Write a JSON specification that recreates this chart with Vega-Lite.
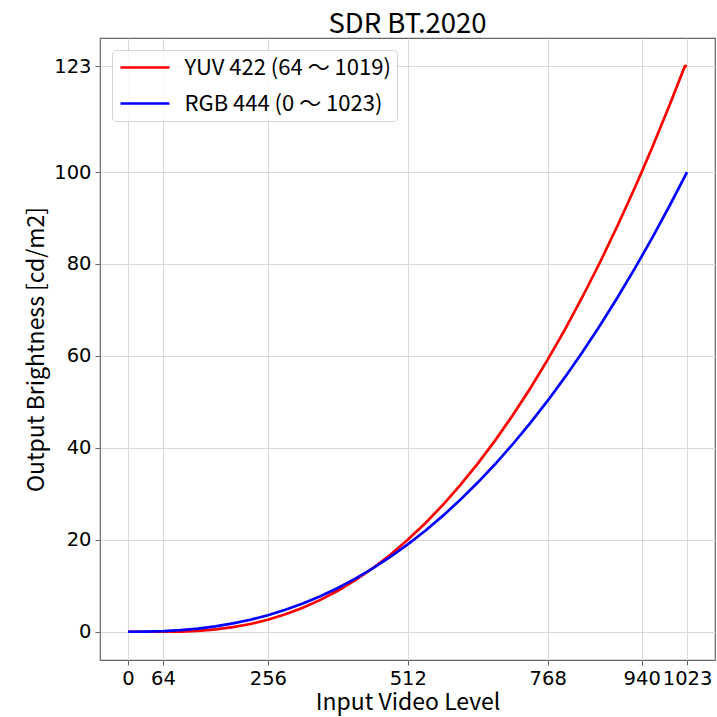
{
  "$schema": "https://vega.github.io/schema/vega-lite/v6.json",
  "autosize": {"type": "none"},
  "width": 615,
  "height": 622,
  "padding": {"left": 100, "top": 38, "right": 2, "bottom": 57},
  "background": "white",
  "title": {
    "text": "SDR BT.2020",
    "font": "Noto Sans CJK JP",
    "fontSize": 27.5,
    "fontWeight": "normal",
    "color": "#000000",
    "anchor": "middle",
    "offset": 0
  },
  "config": {
    "view": {"stroke": "#666666", "strokeWidth": 1.2},
    "axis": {
      "gridColor": "#d9d9d9",
      "gridWidth": 1,
      "domain": false,
      "tickColor": "#666666",
      "tickSize": 5,
      "labelColor": "#000000",
      "titleColor": "#000000",
      "titleFont": "Noto Sans CJK JP",
      "titleFontSize": 23,
      "titleFontWeight": "normal"
    }
  },
  "data": {
    "values": [
      {"level": 0, "nits": 0, "series": "YUV 422 (64 〜 1019)"},
      {"level": 32, "nits": 0, "series": "YUV 422 (64 〜 1019)"},
      {"level": 64, "nits": 0, "series": "YUV 422 (64 〜 1019)"},
      {"level": 96, "nits": 0.036, "series": "YUV 422 (64 〜 1019)"},
      {"level": 128, "nits": 0.187, "series": "YUV 422 (64 〜 1019)"},
      {"level": 160, "nits": 0.496, "series": "YUV 422 (64 〜 1019)"},
      {"level": 192, "nits": 0.989, "series": "YUV 422 (64 〜 1019)"},
      {"level": 224, "nits": 1.69, "series": "YUV 422 (64 〜 1019)"},
      {"level": 256, "nits": 2.618, "series": "YUV 422 (64 〜 1019)"},
      {"level": 288, "nits": 3.789, "series": "YUV 422 (64 〜 1019)"},
      {"level": 320, "nits": 5.222, "series": "YUV 422 (64 〜 1019)"},
      {"level": 352, "nits": 6.927, "series": "YUV 422 (64 〜 1019)"},
      {"level": 384, "nits": 8.92, "series": "YUV 422 (64 〜 1019)"},
      {"level": 416, "nits": 11.211, "series": "YUV 422 (64 〜 1019)"},
      {"level": 448, "nits": 13.815, "series": "YUV 422 (64 〜 1019)"},
      {"level": 480, "nits": 16.74, "series": "YUV 422 (64 〜 1019)"},
      {"level": 512, "nits": 20.0, "series": "YUV 422 (64 〜 1019)"},
      {"level": 544, "nits": 23.603, "series": "YUV 422 (64 〜 1019)"},
      {"level": 576, "nits": 27.557, "series": "YUV 422 (64 〜 1019)"},
      {"level": 608, "nits": 31.873, "series": "YUV 422 (64 〜 1019)"},
      {"level": 640, "nits": 36.559, "series": "YUV 422 (64 〜 1019)"},
      {"level": 672, "nits": 41.627, "series": "YUV 422 (64 〜 1019)"},
      {"level": 704, "nits": 47.08, "series": "YUV 422 (64 〜 1019)"},
      {"level": 736, "nits": 52.928, "series": "YUV 422 (64 〜 1019)"},
      {"level": 768, "nits": 59.18, "series": "YUV 422 (64 〜 1019)"},
      {"level": 800, "nits": 65.84, "series": "YUV 422 (64 〜 1019)"},
      {"level": 832, "nits": 72.923, "series": "YUV 422 (64 〜 1019)"},
      {"level": 864, "nits": 80.427, "series": "YUV 422 (64 〜 1019)"},
      {"level": 896, "nits": 88.366, "series": "YUV 422 (64 〜 1019)"},
      {"level": 928, "nits": 96.744, "series": "YUV 422 (64 〜 1019)"},
      {"level": 940, "nits": 100.0, "series": "YUV 422 (64 〜 1019)"},
      {"level": 960, "nits": 105.567, "series": "YUV 422 (64 〜 1019)"},
      {"level": 992, "nits": 114.844, "series": "YUV 422 (64 〜 1019)"},
      {"level": 1019, "nits": 123.03, "series": "YUV 422 (64 〜 1019)"},
      {"level": 1023, "nits": 123.03, "series": "YUV 422 (64 〜 1019)"},
      {"level": 0, "nits": 0, "series": "RGB 444 (0 〜 1023)"},
      {"level": 32, "nits": 0.025, "series": "RGB 444 (0 〜 1023)"},
      {"level": 64, "nits": 0.129, "series": "RGB 444 (0 〜 1023)"},
      {"level": 96, "nits": 0.342, "series": "RGB 444 (0 〜 1023)"},
      {"level": 128, "nits": 0.682, "series": "RGB 444 (0 〜 1023)"},
      {"level": 160, "nits": 1.164, "series": "RGB 444 (0 〜 1023)"},
      {"level": 192, "nits": 1.804, "series": "RGB 444 (0 〜 1023)"},
      {"level": 224, "nits": 2.612, "series": "RGB 444 (0 〜 1023)"},
      {"level": 256, "nits": 3.598, "series": "RGB 444 (0 〜 1023)"},
      {"level": 288, "nits": 4.774, "series": "RGB 444 (0 〜 1023)"},
      {"level": 320, "nits": 6.146, "series": "RGB 444 (0 〜 1023)"},
      {"level": 352, "nits": 7.728, "series": "RGB 444 (0 〜 1023)"},
      {"level": 384, "nits": 9.522, "series": "RGB 444 (0 〜 1023)"},
      {"level": 416, "nits": 11.537, "series": "RGB 444 (0 〜 1023)"},
      {"level": 448, "nits": 13.783, "series": "RGB 444 (0 〜 1023)"},
      {"level": 480, "nits": 16.264, "series": "RGB 444 (0 〜 1023)"},
      {"level": 512, "nits": 18.991, "series": "RGB 444 (0 〜 1023)"},
      {"level": 544, "nits": 21.964, "series": "RGB 444 (0 〜 1023)"},
      {"level": 576, "nits": 25.196, "series": "RGB 444 (0 〜 1023)"},
      {"level": 608, "nits": 28.685, "series": "RGB 444 (0 〜 1023)"},
      {"level": 640, "nits": 32.443, "series": "RGB 444 (0 〜 1023)"},
      {"level": 672, "nits": 36.474, "series": "RGB 444 (0 〜 1023)"},
      {"level": 704, "nits": 40.783, "series": "RGB 444 (0 〜 1023)"},
      {"level": 736, "nits": 45.374, "series": "RGB 444 (0 〜 1023)"},
      {"level": 768, "nits": 50.255, "series": "RGB 444 (0 〜 1023)"},
      {"level": 800, "nits": 55.429, "series": "RGB 444 (0 〜 1023)"},
      {"level": 832, "nits": 60.9, "series": "RGB 444 (0 〜 1023)"},
      {"level": 864, "nits": 66.67, "series": "RGB 444 (0 〜 1023)"},
      {"level": 896, "nits": 72.751, "series": "RGB 444 (0 〜 1023)"},
      {"level": 928, "nits": 79.143, "series": "RGB 444 (0 〜 1023)"},
      {"level": 960, "nits": 85.853, "series": "RGB 444 (0 〜 1023)"},
      {"level": 992, "nits": 92.881, "series": "RGB 444 (0 〜 1023)"},
      {"level": 1023, "nits": 100.0, "series": "RGB 444 (0 〜 1023)"}
    ]
  },
  "mark": {"type": "line", "strokeWidth": 2.7, "clip": true},
  "encoding": {
    "x": {
      "field": "level",
      "type": "quantitative",
      "scale": {"domain": [-51.15, 1074.15], "nice": false, "zero": false},
      "axis": {
        "title": "Input Video Level",
        "values": [0, 64, 256, 512, 768, 940, 1023],
        "format": "d",
        "labelFont": "DejaVu Sans",
        "labelFontSize": 19.5,
        "labelPadding": 4,
        "labelFlush": false,
        "labelOverlap": false,
        "titlePadding": 4
      }
    },
    "y": {
      "field": "nits",
      "type": "quantitative",
      "scale": {"domain": [-6.15, 129.15], "nice": false, "zero": false},
      "axis": {
        "title": "Output Brightness [cd/m2]",
        "values": [0, 20, 40, 60, 80, 100, 123],
        "format": "d",
        "labelFont": "DejaVu Sans",
        "labelFontSize": 19.5,
        "labelPadding": 4,
        "labelFlush": false,
        "labelOverlap": false,
        "titlePadding": 5
      }
    },
    "color": {
      "field": "series",
      "type": "nominal",
      "sort": null,
      "scale": {
        "domain": ["YUV 422 (64 〜 1019)", "RGB 444 (0 〜 1023)"],
        "range": ["#ff0000", "#0000ff"]
      },
      "legend": {
        "title": null,
        "orient": "none",
        "legendX": 12,
        "legendY": 12,
        "symbolType": "M-2.45,0H2.45",
        "symbolSize": 400,
        "symbolStrokeWidth": 2.7,
        "symbolOffset": 15.5,
        "labelFont": "Noto Sans CJK JP",
        "labelFontSize": 22,
        "labelColor": "#000000",
        "labelLimit": 0,
        "labelOffset": 28,
        "rowPadding": 13,
        "padding": 6,
        "strokeColor": "#d4d4d4",
        "fillColor": "rgba(255,255,255,0.8)",
        "cornerRadius": 4
      }
    }
  }
}
